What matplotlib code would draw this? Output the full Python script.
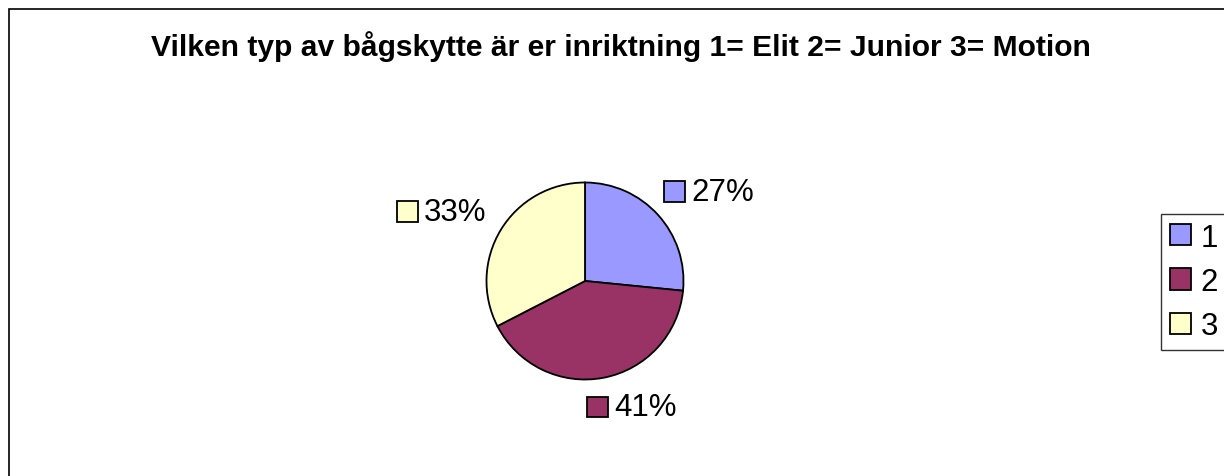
import matplotlib
matplotlib.use("Agg")
import matplotlib.pyplot as plt
import numpy as np
from matplotlib.patches import Rectangle, Patch
from matplotlib.offsetbox import DrawingArea, TextArea, HPacker, AnnotationBbox

plt.rcParams['font.family'] = ['Liberation Sans', 'DejaVu Sans']

title = "Vilken typ av bågskytte är er inriktning 1= Elit 2= Junior 3= Motion"
categories = ["1", "2", "3"]
values = [26.6, 40.9, 32.6]
pct_labels = ["27%", "41%", "33%"]
colors = ["#9999FF", "#993366", "#FFFFCC"]

W, H = 1224, 477
DPI = 100
fig = plt.figure(figsize=(W / DPI, H / DPI), dpi=DPI)
fig.patch.set_facecolor("white")

# chart border (extends past right and bottom edges)
fig.add_artist(Rectangle((8.5 / W, -0.1), 1.2, (H - 10) / H + 0.1,
                         transform=fig.transFigure, fill=False,
                         edgecolor="black", linewidth=1.2))

fig.text(621 / W, 1 - 55.5 / H, title, ha="center", va="baseline",
         fontsize=21.6, fontweight="bold")

# pie axes
cx, cy, R = 585, 282, 98.5
S = 300
ax = fig.add_axes([(cx - S / 2) / W, (H - cy - S / 2) / H, S / W, S / H])
wedges, _ = ax.pie(values, colors=colors, startangle=90, counterclock=False,
                   wedgeprops=dict(edgecolor="black", linewidth=1.3))
lim = S / 2 / R
ax.set_xlim(-lim, lim)
ax.set_ylim(-lim, lim)
ax.set_aspect("equal")
ax.axis("off")

fs = 22.5
sq = 15
nudges = [(0.03, 0.0), (0.17, 0.05), (-0.04, 0.0)]
for w, lab, col, (nx, ny) in zip(wedges, pct_labels, colors, nudges):
    mid = np.deg2rad((w.theta1 + w.theta2) / 2)
    c, s = np.cos(mid), np.sin(mid)
    da = DrawingArea(sq, sq, 0, 0)
    da.add_artist(Rectangle((0, 0), sq, sq, facecolor=col, edgecolor="black", linewidth=1.3))
    ta = TextArea(lab, textprops=dict(fontsize=fs))
    box = HPacker(children=[da, ta], align="center", pad=0, sep=4.5)
    ab = AnnotationBbox(box, (1.2 * c + nx, 1.2 * s + ny), xycoords="data",
                        box_alignment=(0.5 - 0.5 * c, 0.5 - 0.5 * s),
                        frameon=False, annotation_clip=False, pad=0)
    ax.add_artist(ab)

handles = [Patch(facecolor=col, edgecolor="black", linewidth=1.3) for col in colors]
leg = fig.legend(handles, categories, loc="upper left",
                 bbox_to_anchor=(1161 / W, 1 - 214.5 / H), borderaxespad=0,
                 fontsize=fs, frameon=True, fancybox=False, edgecolor="black",
                 handlelength=0.66, handleheight=0.66, handletextpad=0.3,
                 labelspacing=0.45, borderpad=0.3)
leg.get_frame().set_linewidth(1.0)

fig.savefig("out.png", dpi=DPI, facecolor="white")
